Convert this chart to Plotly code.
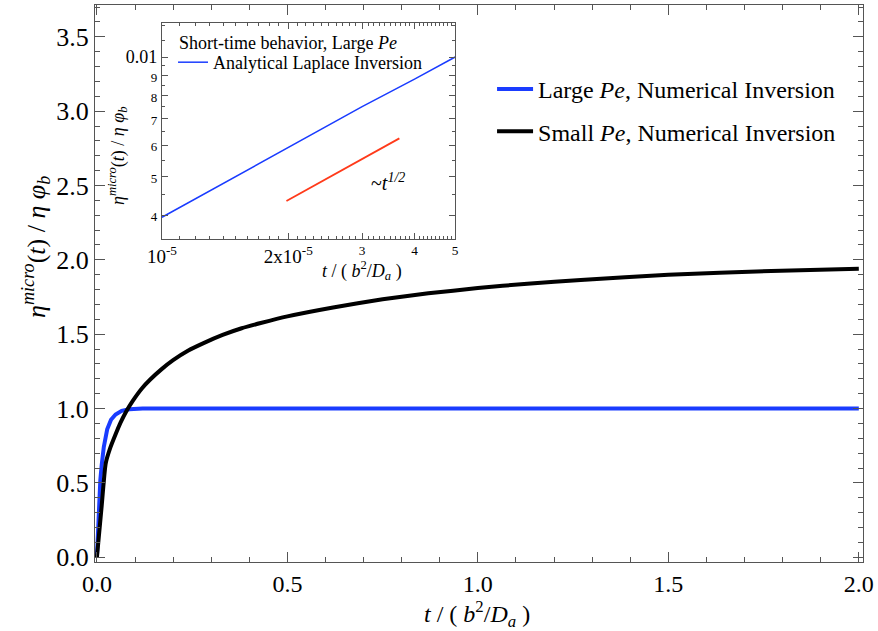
import plotly.graph_objects as go

# ---------------- data ----------------
# main plot: large Pe numerical inversion
large_t = [0.0, 0.003, 0.009, 0.0126, 0.018, 0.027, 0.037, 0.049, 0.065, 0.085, 0.12, 0.3, 1.0, 2.0]
large_v = [0.0, 0.22, 0.52, 0.62, 0.74, 0.86, 0.925, 0.96, 0.985, 0.995, 1.0, 1.0, 1.0, 1.0]
# main plot: small Pe numerical inversion
small_t = [0.0, 0.012, 0.023, 0.035, 0.048, 0.062, 0.078, 0.095, 0.118, 0.14, 0.17, 0.20, 0.24,
           0.28, 0.33, 0.38, 0.43, 0.50, 0.62, 0.75, 0.87, 1.0, 1.13, 1.27, 1.5, 1.77, 2.0]
small_v = [0.0, 0.33, 0.63, 0.735, 0.82, 0.905, 0.985, 1.055, 1.135, 1.195, 1.265, 1.325, 1.39,
           1.44, 1.495, 1.54, 1.575, 1.62, 1.68, 1.735, 1.775, 1.81, 1.84, 1.865, 1.90, 1.925, 1.94]
# inset: analytical Laplace inversion (short time, large Pe)
inset_t = [1e-5, 1.5e-5, 2e-5, 3e-5, 4e-5, 5e-5]
inset_v = [0.00395, 0.0050, 0.0059, 0.0075, 0.0088, 0.0100]
# inset: t^(1/2) guide line
guide_t = [1.98e-5, 3.68e-5]
guide_v = [0.00434, 0.00624]

main_xticks = [0.0, 0.5, 1.0, 1.5, 2.0]
main_yticks = [0.0, 0.5, 1.0, 1.5, 2.0, 2.5, 3.0, 3.5]
inset_xticks = [1e-5, 2e-5, 3e-5, 4e-5, 5e-5]
inset_xlabels = ["10<sup>-5</sup>", "2x10<sup>-5</sup>", "<sup>3</sup>", "<sup>4</sup>", "<sup>5</sup>"]
inset_yticks = [0.004, 0.005, 0.006, 0.007, 0.008, 0.009, 0.01]
inset_ylabels = ["<span style='font-size:13px'>4</span>", "<span style='font-size:13px'>5</span>",
                 "<span style='font-size:13px'>6</span>", "<span style='font-size:13px'>7</span>",
                 "<span style='font-size:13px'>8</span>", "<span style='font-size:13px'>9</span>", "0.01"]
inset_xminor = [1e-5 + i * 1e-6 for i in range(1, 41) if i % 10 != 0]
inset_yminor = [0.0035, 0.0045, 0.0055, 0.0065, 0.0075, 0.0085, 0.0095, 0.011, 0.012]

FONT = "Liberation Serif"
BLUE = "#1a3cff"
AX = "#555555"

fig = go.Figure()
fig.add_trace(go.Scatter(x=large_t, y=large_v, mode="lines", line=dict(color=BLUE, width=4),
                         name="Large <i>Pe</i>, Numerical Inversion", legendgroup="a"))
fig.add_trace(go.Scatter(x=small_t, y=small_v, mode="lines", line=dict(color="black", width=4, shape="spline", smoothing=0.5),
                         name="Small <i>Pe</i>, Numerical Inversion", legendgroup="b"))
fig.add_trace(go.Scatter(x=inset_t, y=inset_v, mode="lines", line=dict(color=BLUE, width=1.5),
                         name="Analytical Laplace Inversion", xaxis="x2", yaxis="y2", legend="legend2"))
fig.add_trace(go.Scatter(x=guide_t, y=guide_v, mode="lines", line=dict(color="#ff3a1a", width=1.8),
                         showlegend=False, xaxis="x2", yaxis="y2"))

fig.update_layout(
    width=878, height=631,
    margin=dict(l=95, r=15, t=5, b=69),
    plot_bgcolor="white", paper_bgcolor="white",
    font=dict(family=FONT, color="black"),
    xaxis=dict(range=[-0.005, 2.011], tickvals=main_xticks, tickformat=".1f",
               ticks="inside", ticklen=10, tickcolor=AX, showline=True, linecolor=AX, linewidth=1,
               mirror="allticks", showgrid=False, zeroline=False,
               minor=dict(dtick=0.1, ticks="inside", ticklen=5, tickcolor=AX, showgrid=False),
               tickfont=dict(size=24, family=FONT)),
    yaxis=dict(range=[-0.032, 3.714], tickvals=main_yticks, tickformat=".1f",
               ticks="inside", ticklen=10, tickcolor=AX, showline=True, linecolor=AX, linewidth=1,
               mirror="allticks", showgrid=False, zeroline=False,
               minor=dict(dtick=0.1, ticks="inside", ticklen=5, tickcolor=AX, showgrid=False),
               tickfont=dict(size=26, family=FONT)),
    xaxis2=dict(type="log", domain=[0.0872, 0.469], anchor="y2",
                range=[-5, -4.30103], tickvals=inset_xticks, ticktext=inset_xlabels,
                ticks="inside", ticklen=6, tickcolor=AX, showline=True, linecolor=AX, linewidth=1,
                mirror="allticks", showgrid=False, zeroline=False,
                minor=dict(tickvals=inset_xminor, ticks="inside", ticklen=3, tickcolor=AX, showgrid=False),
                tickfont=dict(size=19, family=FONT)),
    yaxis2=dict(type="log", domain=[0.5797, 0.9677], anchor="x2",
                range=[-2.4584, -1.9143], tickvals=inset_yticks, ticktext=inset_ylabels,
                ticks="inside", ticklen=6, tickcolor=AX, showline=True, linecolor=AX, linewidth=1,
                mirror="allticks", showgrid=False, zeroline=False,
                minor=dict(tickvals=inset_yminor, ticks="inside", ticklen=3, tickcolor=AX, showgrid=False),
                tickfont=dict(size=18, family=FONT)),
    legend=dict(x=0.517, y=0.889, xanchor="left", yanchor="top", bgcolor="rgba(0,0,0,0)", itemwidth=36,
                font=dict(size=24, family=FONT), traceorder="grouped", tracegroupgap=8),
    legend2=dict(x=0.1016, y=0.9300, xanchor="left", yanchor="top", bgcolor="rgba(0,0,0,0)",
                 font=dict(size=18, family=FONT), tracegroupgap=0),
    annotations=[
        dict(text="Short-time behavior, Large <i>Pe</i>", x=288, y=43, font=dict(size=18, family=FONT)),
        dict(text="~<i>t</i><sup><i>1/2</i></sup>", x=388, y=182, font=dict(size=20, family=FONT)),
        dict(text="<i>t</i> / ( <i>b</i><sup>2</sup>/<i>D</i><sub><i>a</i></sub> )", x=362, y=270,
             font=dict(size=18, family=FONT)),
        dict(text="<i>η</i><sup><i>micro</i></sup>(<i>t</i>) / <i>η φ</i><sub><i>b</i></sub>", x=117, y=156,
             textangle=-90, font=dict(size=18, family=FONT)),
        dict(text="<i>t</i> / ( <i>b</i><sup>2</sup>/<i>D</i><sub><i>a</i></sub> )", x=477, y=614,
             font=dict(size=24, family=FONT)),
        dict(text="<i>η</i><sup><i>micro</i></sup>(<i>t</i>) / <i>η φ</i><sub><i>b</i></sub>", x=36, y=247,
             textangle=-90, font=dict(size=26, family=FONT)),
    ],
)

# convert pixel positions of annotations to paper coordinates
L, R, T, B = 95, 15, 5, 69
pw, ph = 878 - L - R, 631 - T - B
for a in fig.layout.annotations:
    px, py = a.x, a.y
    a.x = (px - L) / pw
    a.y = (631 - B - py) / ph
    a.xref = "paper"
    a.yref = "paper"
    a.xanchor = "center"
    a.yanchor = "middle"
    a.showarrow = False

fig.write_html("out.html")
